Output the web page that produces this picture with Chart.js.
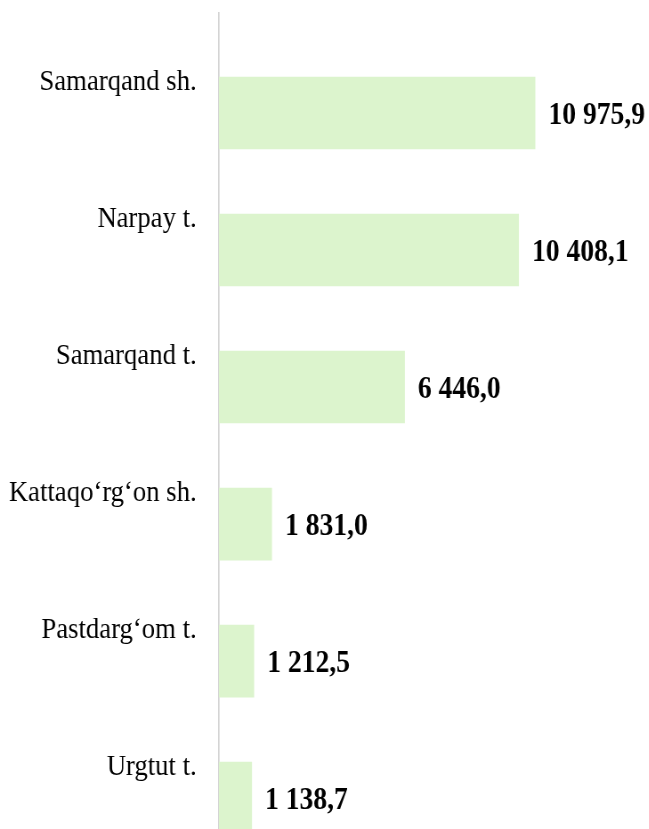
<!DOCTYPE html>
<html>
<head>
<meta charset="utf-8">
<script src="https://cdn.jsdelivr.net/npm/chart.js@4"></script>
<style>
    html, body { margin: 0; padding: 0; background: #fff; overflow: hidden; }
    /* the reference text is narrow and tall, so the chart is drawn wider and squeezed */
    #wrap { width: 729px; height: 880px; position: relative; transform: scaleX(0.89); transform-origin: 0 0; }
</style>
</head>
<body>
<div id="wrap"><canvas id="chart"></canvas></div>
<script>
const categories = ['Samarqand sh.', 'Narpay t.', 'Samarqand t.', 'Kattaqo‘rg‘on sh.', 'Pastdarg‘om t.', 'Urgtut t.'];
const values = [10975.9, 10408.1, 6446.0, 1831.0, 1212.5, 1138.7];

function formatValue(v) {
    const parts = v.toFixed(1).split('.');
    const intPart = parts[0].replace(/\B(?=(\d{3})+(?!\d))/g, ' ');
    return intPart + ',' + parts[1];
}

// value labels to the right of each bar
const valueLabels = {
    id: 'valueLabels',
    afterDatasetsDraw(chart) {
        const ctx = chart.ctx;
        const meta = chart.getDatasetMeta(0);
        ctx.save();
        ctx.font = 'bold 31px "Liberation Serif", "Times New Roman", serif';
        ctx.fillStyle = '#000';
        ctx.textAlign = 'left';
        ctx.textBaseline = 'middle';
        meta.data.forEach((bar, i) => {
            ctx.fillText(formatValue(values[i]), bar.x + 15, bar.y + 3);
        });
        ctx.restore();
    }
};

const ctx = document.getElementById('chart').getContext('2d');
new Chart(ctx, {
    type: 'bar',
    data: {
        datasets: [{
            data: values.map((v, i) => ({ x: v, y: i })),
            backgroundColor: '#dcf4cd',
            borderWidth: 0,
            barThickness: 72
        }]
    },
    options: {
        indexAxis: 'y',
        responsive: true,
        maintainAspectRatio: false,
        animation: false,
        layout: { padding: { top: 13, right: 30, bottom: 0, left: 0 } },
        plugins: {
            legend: { display: false },
            tooltip: { enabled: false }
        },
        scales: {
            x: {
                display: false,
                min: 0,
                max: 14000
            },
            y: {
                type: 'linear',
                reverse: true,
                offset: false,
                grace: 0,
                min: -0.73,
                max: 5.598,
                afterFit: (scale) => {
                    scale.width = 246;
                    scale.paddingTop = 0;
                    scale.paddingBottom = 0;
                },
                grid: { display: true, drawOnChartArea: false, drawTicks: true, tickLength: 25, color: 'rgba(0,0,0,0)' },
                border: { display: true, color: '#d4d4d4', width: 1.7 },
                ticks: {
                    stepSize: 1,
                    autoSkip: false,
                    padding: 0,
                    labelOffset: -31,
                    color: '#000',
                    font: { family: '"Liberation Serif", "Times New Roman", serif', size: 30 },
                    callback: (v) => Number.isInteger(v) && categories[v] !== undefined ? categories[v] : null
                }
            }
        }
    },
    plugins: [valueLabels]
});
</script>
</body>
</html>
